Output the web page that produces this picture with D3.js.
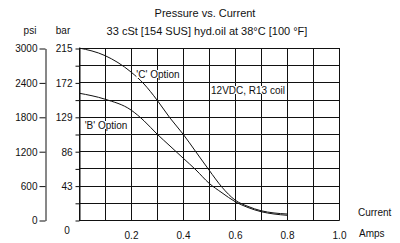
<!DOCTYPE html>
<html lang="en">
<head>
<meta charset="UTF-8" />
<script src="https://d3js.org/d3.v7.min.js"></script>
</head>
<body style="margin:0">
<svg width="400" height="243" font-family="Arial, 'Liberation Sans', sans-serif"></svg>
<script>
// amps on x, bar on y
const amps = [0, 0.1, 0.2, 0.25, 0.3, 0.35, 0.4, 0.45, 0.5, 0.55, 0.6, 0.65, 0.7, 0.75, 0.8];
const cOption = [215, 205.5, 185, 170, 150, 127.5, 107.5, 85, 62.5, 41, 25, 17, 11.6, 8.8, 7.5];
const bOption = [158.5, 151, 137.5, 124, 107.5, 92.5, 77.5, 62.5, 46, 34, 23, 15.6, 10.4, 7.5, 5.9];

const barTicks = [0, 21.5, 43, 64.5, 86, 107.5, 129, 150.5, 172, 193.5, 215];
const barLabels = [43, 86, 129, 172, 215];
const psiTicks = [0, 600, 1200, 1800, 2400, 3000];
const ampTicks = [0.2, 0.4, 0.6, 0.8, 1.0];
const ampGrid = [0, 0.1, 0.2, 0.3, 0.4, 0.5, 0.6, 0.7, 0.8, 0.9, 1.0];

const svg = d3.select('svg');

const x = d3.scaleLinear().domain([0, 1]).range([79, 339]);
const y = d3.scaleLinear().domain([0, 215]).range([220, 48]);
const yPsi = d3.scaleLinear().domain([0, 3000]).range([220, 48]);

// grid as one path
let gridD = '';
ampGrid.forEach(a => {
  const px = Math.round(x(a)) + 0.5;
  gridD += `M${px},${y(215)}V${y(0) + 0.5}`;
});
barTicks.forEach(b => {
  const py = Math.round(y(b)) + 0.5;
  gridD += `M${x(0)},${py}H${x(1) + 0.5}`;
});
svg.append('path').attr('class', 'grid').attr('d', gridD)
  .attr('fill', 'none').attr('stroke', '#111').attr('stroke-width', 1);

// curves
const line = d3.line()
  .x((d, i) => x(amps[i]))
  .y(d => y(d))
  .curve(d3.curveMonotoneX);

[cOption, bOption].forEach(s => {
  svg.append('path').datum(s).attr('d', line)
    .attr('fill', 'none').attr('stroke', '#111').attr('stroke-width', 1);
});

// bar axis
const barAxis = svg.append('g')
  .attr('transform', 'translate(79.5,0.5)')
  .call(d3.axisLeft(y).tickValues(barTicks).tickSize(4).tickSizeOuter(0)
    .tickFormat(d => barLabels.includes(d) ? d : ''));
barAxis.attr('font-family', null);
barAxis.selectAll('text').attr('font-size', 10).attr('fill', '#111').attr('dy', '0.34em');
barAxis.selectAll('path,line').attr('stroke', '#111');

// psi axis
const psiAxis = svg.append('g')
  .attr('transform', 'translate(45.5,0.5)')
  .call(d3.axisLeft(yPsi).tickValues(psiTicks).tickSize(6).tickSizeOuter(0).tickPadding(2)
    .tickFormat(d3.format('d')));
psiAxis.attr('font-family', null);
psiAxis.selectAll('text').attr('font-size', 10).attr('fill', '#111').attr('dy', '0.34em');
psiAxis.selectAll('path,line').attr('stroke', '#111');

// amps axis labels
const ampAxis = svg.append('g')
  .attr('transform', `translate(0,${y(0)})`)
  .call(d3.axisBottom(x).tickValues(ampTicks).tickSize(0).tickPadding(12).tickFormat(d3.format('.1f')));
ampAxis.attr('font-family', null);
ampAxis.select('.domain').remove();
ampAxis.selectAll('text').attr('font-size', 10).attr('fill', '#111');

svg.append('text').attr('x', 67).attr('y', 234).attr('text-anchor', 'middle')
  .attr('font-size', 10).attr('fill', '#111').text('0');

// labels with white boxes
const notes = [
  { t: "'C' Option", x: 158, y: 74 },
  { t: '12VDC, R13 coil', x: 248, y: 90 },
  { t: "'B' Option", x: 106, y: 125 }
];
notes.forEach(n => {
  const g = svg.append('g');
  const txt = g.append('text').attr('x', n.x).attr('y', n.y).attr('dy', '0.35em')
    .attr('text-anchor', 'middle').attr('font-size', 10).attr('fill', '#111').text(n.t);
  const b = txt.node().getBBox();
  g.insert('rect', 'text').attr('x', b.x).attr('y', n.y - 4)
    .attr('width', b.width).attr('height', 8).attr('fill', '#fff');
});

// titles
const labels = [
  { t: 'Pressure vs. Current', x: 205, y: 17, s: 11, a: 'middle' },
  { t: '33 cSt [154 SUS] hyd.oil at 38°C [100 °F]', x: 207, y: 35, s: 11, a: 'middle' },
  { t: 'psi', x: 30, y: 34, s: 10, a: 'middle' },
  { t: 'bar', x: 63, y: 34, s: 10, a: 'middle' },
  { t: 'Current', x: 358, y: 216, s: 10, a: 'start' },
  { t: 'Amps', x: 359, y: 237, s: 10, a: 'start' }
];
labels.forEach(l => {
  svg.append('text').attr('x', l.x).attr('y', l.y).attr('text-anchor', l.a)
    .attr('font-size', l.s).attr('fill', '#111').text(l.t);
});
</script>
</body>
</html>
